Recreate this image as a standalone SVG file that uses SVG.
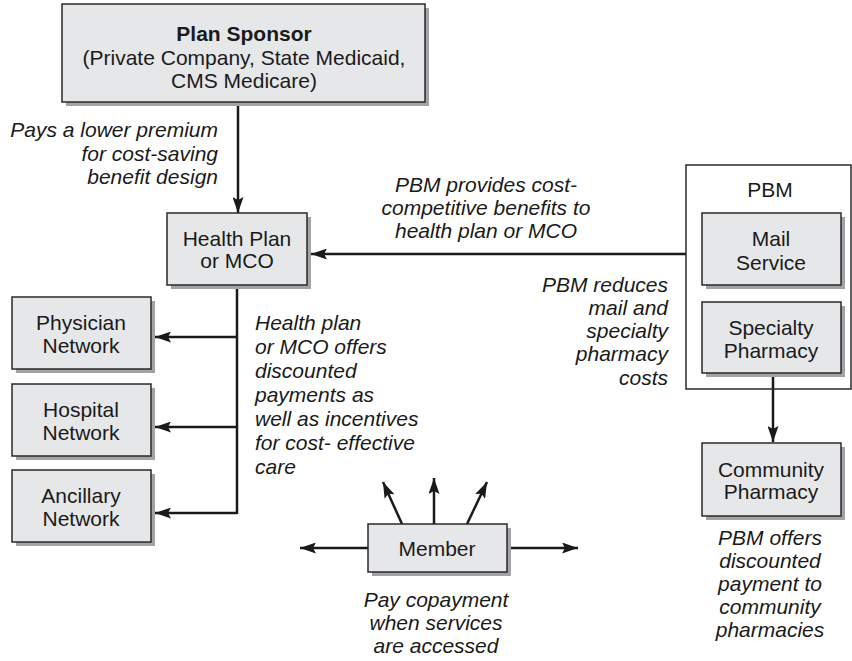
<svg xmlns="http://www.w3.org/2000/svg" width="852" height="661" viewBox="0 0 852 661">
<defs>
<style>
.box{fill:#e6e7e9;stroke:#2a2a2a;stroke-width:1.5}
.sh{fill:#a3a3a5}
.t{font-family:"Liberation Sans",Arial,sans-serif;font-size:21px;fill:#1a1a1a;text-anchor:middle}
.b{font-weight:bold}
.i{font-family:"Liberation Sans",Arial,sans-serif;font-size:21px;font-style:italic;fill:#1a1a1a}
.ln{stroke:#1a1a1a;stroke-width:2.5;fill:none}
.ar{stroke:#1a1a1a;stroke-width:2.5;fill:none;marker-end:url(#ah)}
</style>
<marker id="ah" viewBox="0 0 16 11" refX="16" refY="5.5" markerWidth="16" markerHeight="11" markerUnits="userSpaceOnUse" orient="auto">
<path d="M0,0 L16,5.5 L0,11 L3,5.5 Z" fill="#1a1a1a"/>
</marker>
</defs>

<g id="connectors">
<line class="ar" x1="238" y1="102" x2="238" y2="213"/>
<line class="ar" x1="686" y1="254" x2="311" y2="254"/>
<line class="ln" x1="237" y1="285" x2="237" y2="514"/>
<line class="ar" x1="237" y1="337" x2="155" y2="337"/>
<line class="ar" x1="237" y1="427" x2="155" y2="427"/>
<line class="ar" x1="237" y1="513" x2="155" y2="513"/>
<line class="ar" x1="773" y1="373" x2="773" y2="442"/>
<line class="ar" x1="368" y1="548" x2="300" y2="548"/>
<line class="ar" x1="507" y1="548" x2="578" y2="548"/>
<line class="ar" x1="434" y1="524" x2="434" y2="478"/>
<line class="ar" x1="402" y1="524" x2="383" y2="482"/>
<line class="ar" x1="467" y1="524" x2="487" y2="482"/>
</g>

<g id="plan-sponsor">
<rect class="sh" x="66" y="8" width="363" height="98"/>
<rect class="box" x="62" y="4" width="363" height="98"/>
<text class="t b" x="244" y="41">Plan Sponsor</text>
<text class="t" x="244" y="65">(Private Company, State Medicaid,</text>
<text class="t" x="244" y="88">CMS Medicare)</text>
</g>

<g id="label-premium">
<text class="i" text-anchor="end" x="218" y="137">Pays a lower premium</text>
<text class="i" text-anchor="end" x="218" y="161">for cost-saving</text>
<text class="i" text-anchor="end" x="218" y="184">benefit design</text>
</g>

<g id="health-plan">
<rect class="sh" x="171" y="217" width="140" height="72"/>
<rect class="box" x="167" y="213" width="140" height="72"/>
<text class="t" x="237" y="246">Health Plan</text>
<text class="t" x="237" y="268">or MCO</text>
</g>

<g id="label-pbm-provides">
<text class="i" text-anchor="middle" x="486" y="192">PBM provides cost-</text>
<text class="i" text-anchor="middle" x="486" y="215">competitive benefits to</text>
<text class="i" text-anchor="middle" x="486" y="238">health plan or MCO</text>
</g>

<g id="pbm">
<rect x="686" y="165" width="165" height="224" fill="none" stroke="#2a2a2a" stroke-width="1.5"/>
<text class="t" x="770" y="197">PBM</text>
</g>

<g id="mail-service">
<rect class="sh" x="706" y="217" width="139" height="72"/>
<rect class="box" x="702" y="213" width="139" height="72"/>
<text class="t" x="771" y="246">Mail</text>
<text class="t" x="771" y="270">Service</text>
</g>

<g id="specialty-pharmacy">
<rect class="sh" x="706" y="306" width="139" height="71"/>
<rect class="box" x="702" y="302" width="139" height="71"/>
<text class="t" x="771" y="335">Specialty</text>
<text class="t" x="771" y="358">Pharmacy</text>
</g>

<g id="label-pbm-reduces">
<text class="i" text-anchor="end" x="668" y="292">PBM reduces</text>
<text class="i" text-anchor="end" x="668" y="315">mail and</text>
<text class="i" text-anchor="end" x="668" y="338">specialty</text>
<text class="i" text-anchor="end" x="668" y="361">pharmacy</text>
<text class="i" text-anchor="end" x="668" y="385">costs</text>
</g>

<g id="community-pharmacy">
<rect class="sh" x="706" y="447" width="139" height="73"/>
<rect class="box" x="702" y="443" width="139" height="73"/>
<text class="t" x="771" y="477">Community</text>
<text class="t" x="771" y="499">Pharmacy</text>
</g>

<g id="label-pbm-offers">
<text class="i" text-anchor="middle" x="770" y="545">PBM offers</text>
<text class="i" text-anchor="middle" x="770" y="568">discounted</text>
<text class="i" text-anchor="middle" x="770" y="591">payment to</text>
<text class="i" text-anchor="middle" x="770" y="614">community</text>
<text class="i" text-anchor="middle" x="770" y="637">pharmacies</text>
</g>

<g id="physician-network">
<rect class="sh" x="16" y="301" width="139" height="72"/>
<rect class="box" x="12" y="297" width="139" height="72"/>
<text class="t" x="81" y="330">Physician</text>
<text class="t" x="81" y="353">Network</text>
</g>

<g id="hospital-network">
<rect class="sh" x="16" y="388" width="139" height="72"/>
<rect class="box" x="12" y="384" width="139" height="72"/>
<text class="t" x="81" y="417">Hospital</text>
<text class="t" x="81" y="440">Network</text>
</g>

<g id="ancillary-network">
<rect class="sh" x="16" y="474" width="139" height="72"/>
<rect class="box" x="12" y="470" width="139" height="72"/>
<text class="t" x="81" y="503">Ancillary</text>
<text class="t" x="81" y="526">Network</text>
</g>

<g id="label-health-plan-offers">
<text class="i" x="255" y="330">Health plan</text>
<text class="i" x="255" y="354">or MCO offers</text>
<text class="i" x="255" y="378">discounted</text>
<text class="i" x="255" y="402">payments as</text>
<text class="i" x="255" y="426">well as incentives</text>
<text class="i" x="255" y="450">for cost- effective</text>
<text class="i" x="255" y="474">care</text>
</g>

<g id="member">
<rect class="sh" x="372" y="528" width="139" height="48"/>
<rect class="box" x="368" y="524" width="139" height="48"/>
<text class="t" x="437" y="556">Member</text>
</g>

<g id="label-copayment">
<text class="i" text-anchor="middle" x="436" y="607">Pay copayment</text>
<text class="i" text-anchor="middle" x="436" y="630">when services</text>
<text class="i" text-anchor="middle" x="436" y="653">are accessed</text>
</g>
</svg>
